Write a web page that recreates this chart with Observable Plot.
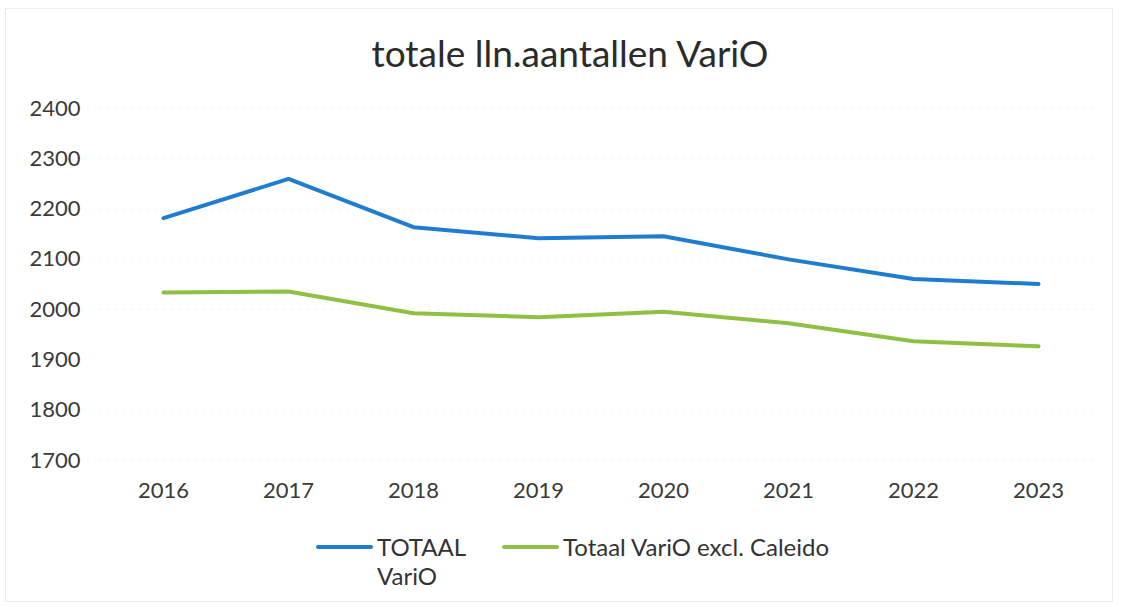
<!DOCTYPE html>
<html>
<head>
<meta charset="utf-8">
<script src="https://cdn.jsdelivr.net/npm/d3@7"></script>
<script src="https://cdn.jsdelivr.net/npm/@observablehq/plot@0.6"></script>
<style>
  html, body { margin: 0; padding: 0; background: #fff; }
  body { width: 1121px; height: 607px; position: relative; overflow: hidden; font-family: Lato, "Open Sans", sans-serif; color: #333; }
  #frame { position: absolute; left: 5px; top: 8px; width: 1108px; height: 594px; border: 1px solid #ececec; box-sizing: border-box; pointer-events: none; }
  #title { height: 90px; box-sizing: border-box; padding-top: 33px; padding-left: 19px; text-align: center; font-size: 37px; line-height: 40px; color: #2b2b2b; }
  #chart svg { display: block; }
  #legend { display: flex; padding-left: 316px; margin-top: 22px; font-size: 24px; line-height: 29px; color: #333; }
  .item { display: flex; align-items: flex-start; }
  .sw { display: inline-block; width: 57px; height: 4px; border-radius: 2px; margin-top: 13px; margin-right: 4px; }
</style>
</head>
<body>
<div id="frame"></div>
<div id="title"></div>
<div id="chart"></div>
<div id="legend"></div>
<script>
const titleText = "totale lln.aantallen VariO";
const years = ["2016", "2017", "2018", "2019", "2020", "2021", "2022", "2023"];
const totaalVariO = [2182, 2260, 2164, 2142, 2146, 2100, 2061, 2051];
const exclCaleido = [2034, 2036, 1993, 1985, 1996, 1973, 1937, 1927];
const seriesNames = ["TOTAAL VariO", "Totaal VariO excl. Caleido"];
const seriesColors = ["#1f7dd0", "#8fc044"];
const yTicks = [1700, 1800, 1900, 2000, 2100, 2200, 2300, 2400];

document.getElementById("title").textContent = titleText;

const data = [
  ...years.map((year, i) => ({year, value: totaalVariO[i], series: seriesNames[0]})),
  ...years.map((year, i) => ({year, value: exclCaleido[i], series: seriesNames[1]}))
];

const chart = Plot.plot({
  width: 1121,
  height: 420,
  marginTop: 18,
  marginBottom: 50,
  marginLeft: 100,
  marginRight: 21,
  style: {fontFamily: "Lato, 'Open Sans', sans-serif", fontSize: "22px", color: "#3a3a3a", background: "transparent"},
  x: {type: "point", domain: years, padding: 0.5, label: null},
  y: {domain: [1700, 2400], label: null},
  color: {domain: seriesNames, range: seriesColors},
  marks: [
    Plot.gridY(yTicks, {stroke: "#e4e4e4", strokeOpacity: 0.6, strokeDasharray: "2,6"}),
    Plot.axisY(yTicks, {tickSize: 0, tickPadding: 20, fontSize: 22, tickFormat: d3.format("d"), label: null}),
    Plot.axisX(years, {tickSize: 0, tickPadding: 22, fontSize: 22, label: null}),
    Plot.line(data, {x: "year", y: "value", z: "series", stroke: "series", strokeWidth: 4, strokeLinejoin: "round", strokeLinecap: "round"})
  ]
});
document.getElementById("chart").appendChild(chart);

const legend = document.getElementById("legend");
seriesNames.forEach((name, i) => {
  const item = document.createElement("div");
  item.className = "item";
  const sw = document.createElement("span");
  sw.className = "sw";
  sw.style.background = seriesColors[i];
  const lab = document.createElement("span");
  lab.textContent = name;
  if (i === 0) { lab.style.width = "92px"; item.style.marginRight = "33px"; }
  item.appendChild(sw);
  item.appendChild(lab);
  legend.appendChild(item);
});
</script>
</body>
</html>
